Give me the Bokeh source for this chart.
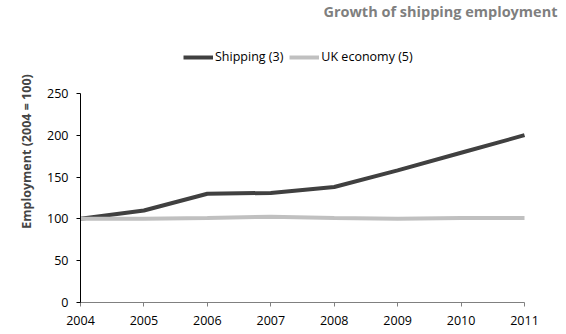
from bokeh.plotting import figure
from bokeh.models import Legend, LegendItem, FixedTicker, Range1d, Label
from bokeh.embed import file_html
from bokeh.resources import INLINE

years = [2004, 2005, 2006, 2007, 2008, 2009, 2010, 2011]
shipping = [100, 110, 130, 131, 138, 158, 179, 200]
uk_economy = [100, 100, 101, 102.5, 101, 100, 101, 101]
y_ticks = [0, 50, 100, 150, 200, 250]
title_text = "Growth of shipping employment"

FONT = "Open Sans"

# Ranges extend beyond the axes so the title and legend can sit inside the frame
p = figure(width=566, height=334, output_backend="svg", toolbar_location=None,
           x_range=Range1d(2004, 2011.662), y_range=Range1d(0, 361),
           min_border_left=80, min_border_right=0, min_border_top=0,
           min_border_bottom=32)

r1 = p.line(years, shipping, line_color="#404040", line_width=4)
r2 = p.line(years, uk_economy, line_color="#c0c0c0", line_width=4)

legend = Legend(items=[LegendItem(label="Shipping (3)", renderers=[r1]),
                       LegendItem(label="UK economy (5)", renderers=[r2])],
                orientation="horizontal", location=(103, 237),
                label_text_font=FONT, label_text_font_size="12.5px",
                label_text_color="#000000", glyph_width=30, glyph_height=14,
                label_height=14, label_standoff=2, spacing=6, padding=0, margin=0,
                border_line_color=None, background_fill_alpha=0)
p.add_layout(legend)

title = Label(x=477, y=291, x_units="screen", y_units="screen", text=title_text,
              text_align="right", text_baseline="middle", text_font=FONT,
              text_font_size="14.5px", text_font_style="bold", text_color="#7f7f7f")
p.add_layout(title)

p.xgrid.visible = False
p.ygrid.visible = False
p.outline_line_color = None

p.xaxis.ticker = FixedTicker(ticks=years)
p.yaxis.ticker = FixedTicker(ticks=y_ticks)
p.xaxis.bounds = (2004, 2011)
p.yaxis.bounds = (0, 250)
for ax in (p.xaxis[0], p.yaxis[0]):
    ax.major_label_text_font = FONT
    ax.major_label_text_font_size = "12.5px"
    ax.major_label_text_color = "#000000"
    ax.minor_tick_line_color = None
    ax.major_tick_in = 0
    ax.major_tick_out = 4
p.xaxis.major_label_standoff = 9
p.yaxis.major_label_standoff = 8
p.xaxis.axis_line_color = "#808080"
p.xaxis.major_tick_line_color = "#808080"
p.yaxis.axis_line_color = "#000000"
p.yaxis.major_tick_line_color = "#000000"
p.yaxis.axis_label = "Employment (2004 = 100)"
p.yaxis.axis_label_text_font = FONT
p.yaxis.axis_label_text_font_size = "12.5px"
p.yaxis.axis_label_text_font_style = "bold"
p.yaxis.axis_label_standoff = 9

open("out.html", "w").write(file_html(p, INLINE))
